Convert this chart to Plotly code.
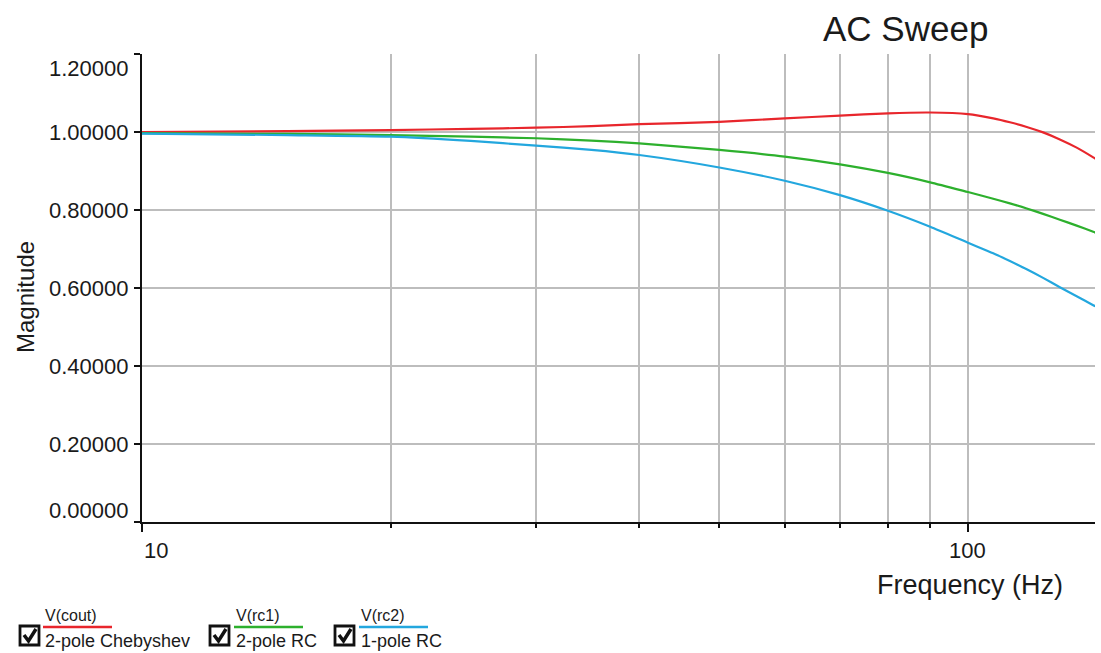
import numpy as np
import plotly.graph_objects as go

# ---------------- data ----------------
freq_hz = [10, 15, 20, 25, 30, 35, 40, 50, 60, 70, 80, 90, 100,
           107.3, 112.4, 117.8, 123.3, 129.2, 135.4, 141.8, 143]
v_cout = [1.000, 1.002, 1.005, 1.008, 1.011, 1.015, 1.020, 1.026, 1.035, 1.042, 1.048, 1.050, 1.046,
          1.035, 1.025, 1.013, 0.999, 0.981, 0.960, 0.935, 0.930]
v_rc1 = [0.997, 0.995, 0.992, 0.988, 0.984, 0.978, 0.971, 0.954, 0.937, 0.917, 0.895, 0.871, 0.846,
         0.829, 0.817, 0.804, 0.790, 0.775, 0.760, 0.744, 0.741]
v_rc2 = [0.996, 0.992, 0.988, 0.977, 0.965, 0.954, 0.941, 0.909, 0.875, 0.838, 0.798, 0.757, 0.716,
         0.689, 0.669, 0.648, 0.626, 0.602, 0.579, 0.556, 0.552]

node_names = ["V(cout)", "V(rc1)", "V(rc2)"]
series_names = ["2-pole Chebyshev", "2-pole RC", "1-pole RC"]
series_colors = ["#e8262c", "#2db02d", "#23a7de"]

y_tick_vals = [0.0, 0.2, 0.4, 0.6, 0.8, 1.0, 1.2]
y_tick_text = ["0.00000", "0.20000", "0.40000", "0.60000", "0.80000", "1.00000", "1.20000"]
x_major_vals = [10, 100]
x_major_text = ["10", "100"]
x_minor_vals = [20, 30, 40, 50, 60, 70, 80, 90]

title_text = "AC Sweep"
x_title = "Frequency (Hz)"
y_title = "Magnitude"

# ---------------- layout geometry ----------------
W, H = 1101, 653
L, R, T, B = 142, 6, 54, 131
PW, PH = W - L - R, H - T - B
FONT = "Liberation Sans, Arial, Helvetica, sans-serif"
TXT = "#1a1a1a"


def px(x):
    return (x - L) / PW


def py(y):
    return (H - B - y) / PH


fig = go.Figure()
for ys, name, col in zip([v_cout, v_rc1, v_rc2], series_names, series_colors):
    fig.add_trace(go.Scatter(x=freq_hz, y=ys, mode="lines", name=name,
                             line=dict(color=col, width=2.2, shape="spline", smoothing=0.6),
                             showlegend=False, hoverinfo="x+y+name"))

annotations = []
# y tick labels
for v, t in zip(y_tick_vals, y_tick_text):
    shift = 0
    if v == max(y_tick_vals):
        shift = -14
    if v == min(y_tick_vals):
        shift = 12
    annotations.append(dict(x=px(131), xref="paper", y=v, yref="y", text=t, showarrow=False,
                            xanchor="right", yanchor="middle", yshift=shift,
                            font=dict(family=FONT, size=22, color=TXT)))
# x tick labels
for v, t in zip(x_major_vals, x_major_text):
    annotations.append(dict(x=np.log10(v), xref="x", y=py(550), yref="paper", text=t,
                            showarrow=False, xanchor="left" if v == x_major_vals[0] else "center",
                            yanchor="middle", font=dict(family=FONT, size=22, color=TXT)))
# titles
annotations.append(dict(x=px(905), y=py(29), xref="paper", yref="paper", text=title_text,
                        showarrow=False, xanchor="center", yanchor="middle",
                        font=dict(family=FONT, size=35, color=TXT)))
annotations.append(dict(x=px(970), y=py(585), xref="paper", yref="paper", text=x_title,
                        showarrow=False, xanchor="center", yanchor="middle",
                        font=dict(family=FONT, size=27, color=TXT)))
annotations.append(dict(x=px(25), y=py(297), xref="paper", yref="paper", text=y_title,
                        showarrow=False, xanchor="center", yanchor="middle", textangle=-90,
                        font=dict(family=FONT, size=24, color=TXT)))

# legend (check boxes + coloured lines + labels)
shapes = []
box_left = [20, 210, 335]
line_x0 = [43, 234, 359]
line_len = 69
for i in range(3):
    bx = box_left[i]
    shapes.append(dict(type="rect", xref="paper", yref="paper",
                       x0=px(bx), x1=px(bx + 19), y0=py(645), y1=py(626),
                       line=dict(color="#111111", width=2.8), fillcolor="white"))
    shapes.append(dict(type="path", xref="paper", yref="paper",
                       path=f"M {px(bx + 4)},{py(635)} L {px(bx + 8.5)},{py(641)} L {px(bx + 16)},{py(629)}",
                       line=dict(color="#111111", width=3.5)))
    shapes.append(dict(type="line", xref="paper", yref="paper",
                       x0=px(line_x0[i]), x1=px(line_x0[i] + line_len), y0=py(627), y1=py(627),
                       line=dict(color=series_colors[i], width=2.5)))
    annotations.append(dict(x=px(line_x0[i]), y=py(615), xref="paper", yref="paper",
                            text=node_names[i], showarrow=False, xanchor="left", yanchor="middle",
                            font=dict(family=FONT, size=16, color=TXT)))
    annotations.append(dict(x=px(line_x0[i]), y=py(641), xref="paper", yref="paper",
                            text=series_names[i], showarrow=False, xanchor="left", yanchor="middle",
                            font=dict(family=FONT, size=18, color=TXT)))

fig.update_layout(
    width=W, height=H,
    margin=dict(l=L, r=R, t=T, b=B, pad=0),
    paper_bgcolor="white", plot_bgcolor="white",
    annotations=annotations, shapes=shapes,
    showlegend=False,
)
fig.update_xaxes(type="log", range=[1, np.log10(142.5)],
                 tickmode="array", tickvals=x_major_vals, showticklabels=False,
                 ticks="outside", ticklen=8, tickwidth=2, tickcolor="#111111",
                 showgrid=True, gridcolor="#bdbdbd", gridwidth=2,
                 showline=True, linecolor="#111111", linewidth=2, zeroline=False,
                 minor=dict(tickmode="array", tickvals=x_minor_vals, ticks="outside", ticklen=4,
                            tickwidth=2, tickcolor="#111111", showgrid=True,
                            gridcolor="#bdbdbd", gridwidth=2))
fig.update_yaxes(range=[0, 1.2], tickmode="array", tickvals=y_tick_vals, showticklabels=False,
                 ticks="outside", ticklen=6, tickwidth=2, tickcolor="#111111",
                 showgrid=True, gridcolor="#bdbdbd", gridwidth=2,
                 showline=True, linecolor="#111111", linewidth=2, zeroline=False)

# remove the default 8px page margin so the figure sits at the window's top-left corner
fig.write_html("out.html", config={"displayModeBar": False},
               post_script="document.body.style.margin='0';document.body.style.overflow='hidden';")
